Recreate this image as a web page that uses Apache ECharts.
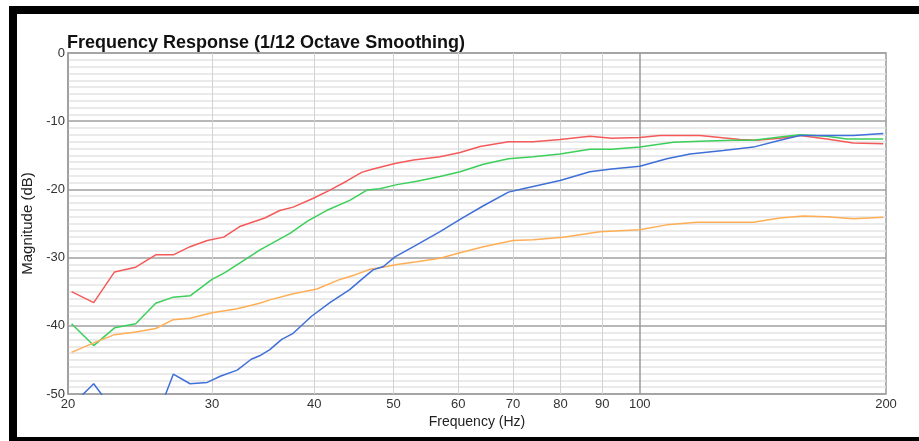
<!DOCTYPE html>
<html>
<head>
<meta charset="utf-8">
<script src="https://cdn.jsdelivr.net/npm/echarts@6/dist/echarts.min.js"></script>
<style>
  html, body { margin: 0; padding: 0; background: #fff; }
  #chart { width: 919px; height: 441px; }
</style>
</head>
<body>
<div id="chart"></div>
<script>
// frequency ticks drawn as vertical grid lines
const xTicks = [20, 30, 40, 50, 60, 70, 80, 90, 100, 200];

// red curve
const redFreq = [20.2, 21.5, 22.8, 24.2, 25.6, 26.9, 28.2, 29.6, 31.0, 32.5, 34.8, 36.3, 37.7, 39.9, 41.8, 43.8, 45.7, 47.2, 50.2, 52.9, 57.0, 60.3, 63.8, 69.1, 74.1, 79.9, 86.9, 92.4, 100, 105.9, 118.5, 125.3, 132.6, 139.0, 148.4, 157.0, 169.3, 182.4, 198.5];
const redDb = [-35.0, -36.6, -32.1, -31.4, -29.6, -29.6, -28.4, -27.5, -27.0, -25.4, -24.2, -23.1, -22.6, -21.3, -20.1, -18.8, -17.5, -17.0, -16.2, -15.7, -15.2, -14.6, -13.7, -13.0, -13.0, -12.7, -12.2, -12.5, -12.4, -12.1, -12.1, -12.4, -12.7, -12.8, -12.5, -12.1, -12.6, -13.2, -13.3];

// green curve
const greenFreq = [20.2, 21.5, 22.8, 24.2, 25.6, 26.9, 28.2, 30.0, 31.1, 33.1, 34.3, 37.4, 39.2, 41.4, 44.2, 46.4, 48.1, 50.5, 53.4, 57.0, 60.3, 64.4, 69.1, 74.1, 79.9, 86.9, 92.4, 100, 109.9, 120.7, 130.1, 137.7, 148.4, 157.0, 169.3, 179.1, 198.5];
const greenDb = [-39.7, -42.9, -40.3, -39.7, -36.7, -35.8, -35.6, -33.2, -32.2, -30.1, -28.9, -26.4, -24.7, -23.1, -21.6, -20.1, -19.9, -19.3, -18.8, -18.1, -17.4, -16.3, -15.5, -15.2, -14.8, -14.1, -14.1, -13.8, -13.1, -12.9, -12.8, -12.8, -12.3, -12.0, -12.2, -12.6, -12.6];

// blue curve
const blueFreq = [20.2, 21.5, 22.8, 24.2, 25.6, 26.9, 28.2, 29.6, 30.7, 32.2, 33.5, 34.3, 35.3, 36.5, 37.7, 39.7, 41.8, 44.2, 45.9, 47.2, 48.6, 50.2, 52.9, 57.0, 60.3, 64.4, 69.1, 72.0, 79.9, 86.9, 92.4, 100, 107.9, 115.2, 126.5, 137.7, 148.4, 157.0, 169.3, 182.4, 198.5];
const blueDb = [-51.7, -48.5, -52.6, -54.5, -53.8, -47.1, -48.5, -48.3, -47.4, -46.5, -44.9, -44.4, -43.5, -42.0, -41.1, -38.6, -36.6, -34.7, -33.0, -31.8, -31.3, -29.9, -28.4, -26.2, -24.4, -22.4, -20.4, -19.9, -18.7, -17.4, -17.0, -16.6, -15.5, -14.8, -14.3, -13.8, -12.8, -12.1, -12.1, -12.1, -11.8];

// orange curve
const orangeFreq = [20.2, 21.5, 22.8, 24.2, 25.6, 26.9, 28.2, 30.0, 32.2, 34.3, 35.3, 37.7, 40.3, 43.0, 44.7, 46.8, 48.1, 50.5, 53.4, 57.0, 60.3, 64.4, 70.0, 74.1, 80.6, 89.4, 100, 107.9, 117.4, 126.5, 137.7, 148.4, 158.5, 169.3, 182.4, 198.5];
const orangeDb = [-43.9, -42.5, -41.3, -40.9, -40.4, -39.1, -38.9, -38.1, -37.5, -36.7, -36.2, -35.3, -34.6, -33.2, -32.6, -31.7, -31.5, -31.0, -30.6, -30.1, -29.3, -28.4, -27.5, -27.4, -27.0, -26.2, -25.9, -25.2, -24.8, -24.8, -24.8, -24.2, -23.9, -24.0, -24.3, -24.1];

const pairs = (fs, ds) => fs.map((f, i) => [f, ds[i]]);

const chart = echarts.init(document.getElementById('chart'));

const gridLines = xTicks.map(v => ({
  xAxis: v,
  lineStyle: {
    color: v === 100 ? '#9a9a9a' : (v === 20 || v === 200 ? 'rgba(0,0,0,0)' : '#d2d2d2'),
    width: v === 100 ? 1.5 : 1,
    type: 'solid'
  }
}));

function curve(name, color, data) {
  return {
    name: name,
    type: 'line',
    data: data,
    showSymbol: false,
    symbol: 'none',
    clip: true,
    lineStyle: { color: color, width: 1.5 },
    itemStyle: { color: color },
    animation: false,
    z: 5
  };
}

chart.setOption({
  animation: false,
  title: {
    text: 'Frequency Response (1/12 Octave Smoothing)',
    left: 67,
    top: 34,
    padding: 0,
    textStyle: {
      fontFamily: 'Liberation Sans, Arial, sans-serif',
      fontSize: 18,
      fontWeight: 'bold',
      color: '#111'
    }
  },
  graphic: [
    { type: 'rect', shape: { x: 9, y: 6, width: 910, height: 8 }, style: { fill: '#000' } },
    { type: 'rect', shape: { x: 9, y: 6, width: 8, height: 435 }, style: { fill: '#000' } },
    { type: 'rect', shape: { x: 9, y: 437, width: 910, height: 4 }, style: { fill: '#000' } }
  ],
  grid: {
    left: 68,
    right: 33,
    top: 53,
    bottom: 47,
    show: true,
    borderColor: '#9a9a9a',
    borderWidth: 1.5,
    backgroundColor: '#fff'
  },
  xAxis: {
    type: 'log',
    logBase: 10,
    min: 20,
    max: 200,
    name: 'Frequency (Hz)',
    nameLocation: 'middle',
    nameGap: 21,
    nameTextStyle: {
      fontFamily: 'Liberation Sans, Arial, sans-serif',
      fontSize: 14,
      color: '#222'
    },
    axisLine: { show: false },
    axisTick: { show: false },
    axisLabel: { show: false },
    splitLine: { show: false },
    minorSplitLine: { show: false }
  },
  yAxis: {
    type: 'value',
    min: -50,
    max: 0,
    interval: 10,
    name: 'Magnitude (dB)',
    nameLocation: 'middle',
    nameGap: 22,
    nameRotate: 90,
    nameTextStyle: {
      fontFamily: 'Liberation Sans, Arial, sans-serif',
      fontSize: 15,
      color: '#222'
    },
    axisLine: { show: true, lineStyle: { color: '#9a9a9a', width: 1.5 } },
    axisTick: { show: false },
    axisLabel: {
      fontFamily: 'Liberation Sans, Arial, sans-serif',
      fontSize: 13,
      color: '#333',
      margin: 3,
      padding: [0, 0, 3, 0]
    },
    splitLine: { show: true, lineStyle: { color: '#a0a0a0', width: 1.5 } },
    minorTick: { show: false, splitNumber: 10 },
    minorSplitLine: { show: true, lineStyle: { color: '#e3e3e3', width: 1.5 } }
  },
  series: [
    {
      name: 'grid',
      type: 'line',
      data: [],
      silent: true,
      z: 1,
      markLine: {
        silent: true,
        symbol: ['none', 'none'],
        animation: false,
        label: {
          show: true,
          position: 'start',
          distance: 4,
          formatter: p => String(p.value),
          fontFamily: 'Liberation Sans, Arial, sans-serif',
          fontSize: 13,
          color: '#333'
        },
        data: gridLines
      }
    },
    curve('red', '#f55a5a', pairs(redFreq, redDb)),
    curve('green', '#3ccf5a', pairs(greenFreq, greenDb)),
    curve('orange', '#ffae55', pairs(orangeFreq, orangeDb)),
    curve('blue', '#3f6fd8', pairs(blueFreq, blueDb))
  ]
});
</script>
</body>
</html>
